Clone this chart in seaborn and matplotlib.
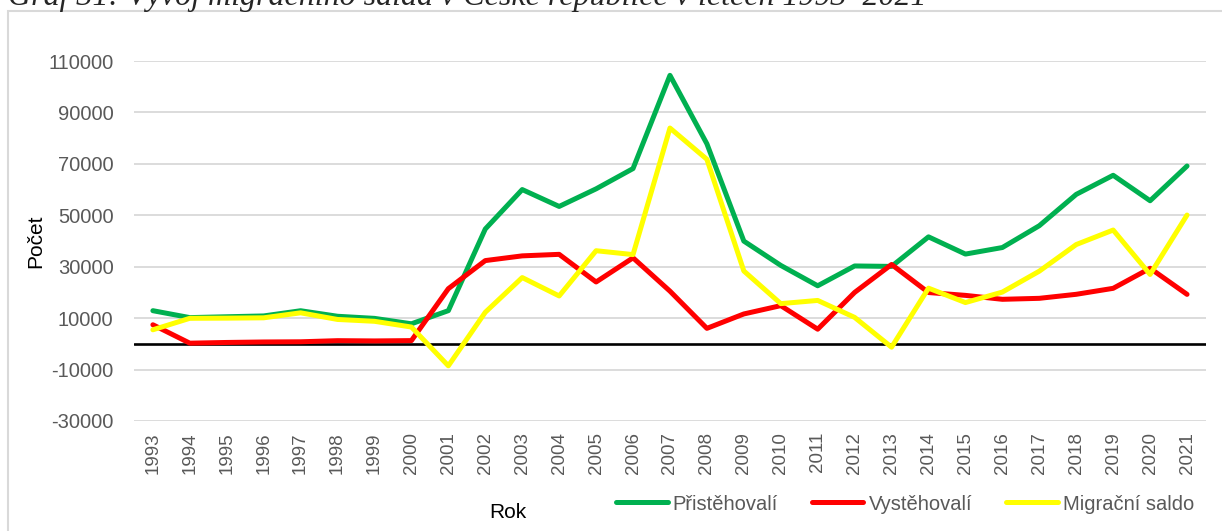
import pandas as pd
import seaborn as sns
import matplotlib.pyplot as plt
from matplotlib.patches import Rectangle

sns.set_theme(style="white")
plt.rcParams['font.family'] = ['Liberation Sans', 'DejaVu Sans']
plt.rcParams['axes.unicode_minus'] = False

years = list(range(1993, 2022))
pristehovali = [12900, 10207, 10540, 10857, 12880, 10729, 9910, 7802, 12918, 44679,
                60015, 53453, 60294, 68183, 104445, 77817, 39973, 30515, 22590, 30298,
                30124, 41625, 34922, 37467, 45957, 58148, 65571, 55669, 69170]
vystehovali = [7424, 265, 541, 728, 805, 1241, 1136, 1263, 21469, 32389,
               34226, 34818, 24065, 33463, 20500, 6027, 11629, 14867, 5701, 20005,
               30876, 19964, 18857, 17326, 17709, 19276, 21600, 29400, 19250]
saldo = [5476, 9942, 9999, 10129, 12075, 9488, 8774, 6539, -8551, 12290,
         25789, 18635, 36229, 34720, 83945, 71790, 28344, 15648, 16889, 10293,
         -1297, 21661, 16065, 20141, 28273, 38629, 44270, 27000, 50100]
series = ["Přistěhovalí", "Vystěhovalí", "Migrační saldo"]
colors = ["#00B050", "#FF0000", "#FFFF00"]

df = pd.DataFrame({"Rok": years * 3,
                   "Počet": pristehovali + vystehovali + saldo,
                   "serie": [s for s in series for _ in years]})

fig = plt.figure(figsize=(12.22, 5.31), dpi=100)
ax = fig.add_axes([0.110, 0.2072, 0.8765, 0.6778])

# gridlines + zero line
for v in range(-30000, 110001, 20000):
    ax.axhline(v, color="#D9D9D9", lw=1.3, zorder=0)
ax.axhline(0, color="black", lw=1.9, zorder=1)

sns.lineplot(data=df, x="Rok", y="Počet", hue="serie", hue_order=series,
             palette=colors, linewidth=3.6, ax=ax, legend=False, zorder=3)

ax.set_xlim(1992.5, 2021.5)
ax.set_ylim(-30000, 110000)
ax.set_yticks(range(-30000, 110001, 20000))
ax.set_xticks(years)
ax.set_xticklabels([str(y) for y in years], rotation=90)
ax.tick_params(axis="x", length=0, labelsize=13.5, labelcolor="#595959", pad=8)
ax.tick_params(axis="y", length=0, labelsize=14.5, labelcolor="#595959", pad=15)
for s in ax.spines.values():
    s.set_visible(False)
ax.set_xlabel("")
ax.set_ylabel("Počet", fontsize=15, color="black", labelpad=2)
fig.text(508 / 1222, 1 - 513 / 531, "Rok", fontsize=15, color="black",
         ha="center", va="center")

handles = [plt.Line2D([], [], color=c, lw=3.6) for c in colors]
leg = fig.legend(handles, series, loc="center", ncol=3, frameon=False,
                 bbox_to_anchor=(905 / 1222, 1 - 504 / 531), fontsize=14.5,
                 handlelength=2.55, handletextpad=0.25, columnspacing=1.7)
for t in leg.get_texts():
    t.set_color("#595959")

# chart border and the cut-off caption above it
fig.patches.append(Rectangle((8 / 1222, -0.05), 1.1, 1 - 11 / 531 + 0.05,
                             transform=fig.transFigure, fill=False,
                             edgecolor="#D9D9D9", lw=1.5))
fig.text(8 / 1222, 1 - 5 / 531,
         "Graf 31: Vývoj migračního salda v České republice v letech 1993–2021",
         family=["Liberation Serif", "DejaVu Serif"], style="italic",
         fontsize=23, va="baseline", ha="left")

fig.savefig("out.png", dpi=100)
